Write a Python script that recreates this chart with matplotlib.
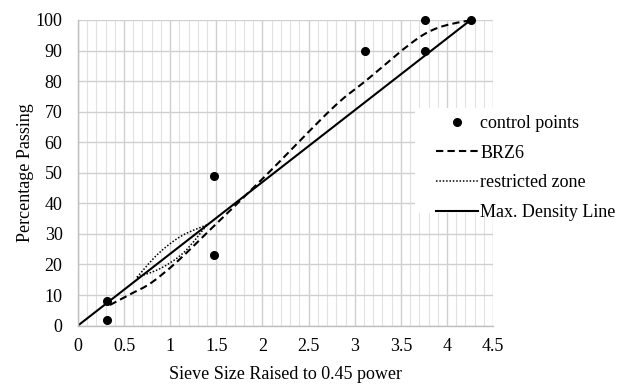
import numpy as np
import matplotlib
matplotlib.use("Agg")
import matplotlib.pyplot as plt
from matplotlib.path import Path
from matplotlib.patches import PathPatch, Rectangle
from matplotlib.lines import Line2D

plt.rcParams['font.family'] = ['Liberation Serif', 'DejaVu Serif']

# sieve sizes (mm) and BRZ6 gradation (% passing)
sieves = [25, 19, 12.5, 9.5, 4.75, 2.36, 1.18, 0.6, 0.3, 0.15, 0.075]
brz6 = [100, 95.5, 80, 71, 48.5, 32.5, 21, 14, 10.5, 8, 6.2]

# control points
ctrl_sieves = [0.075, 0.075, 2.36, 2.36, 12.5, 19, 19, 25]
ctrl_pass = [2, 8, 23, 49, 90, 90, 100, 100]

# restricted zone (upper / lower)
rz_up_x = [0.64, 0.87, 1.12, 1.40]
rz_up_y = [15.8, 23.5, 29.3, 33.0]
rz_lo_x = [0.64, 0.90, 1.15, 1.40]
rz_lo_y = [15.8, 18.8, 24.0, 33.0]

# max density line
mdl_sieves = [0, 25]
mdl_pass = [0, 100]

power = 0.45
fs = 13


def smooth_path(x, y):
    # Excel style smoothed line: bezier through each point
    p = np.column_stack([x, y]).astype(float)
    n = len(p)
    verts = [p[0]]
    codes = [Path.MOVETO]
    for i in range(n - 1):
        p0 = p[i - 1] if i > 0 else p[i]
        p3 = p[i + 2] if i + 2 < n else p[i + 1]
        c1 = p[i] + (p[i + 1] - p0) / 6
        c2 = p[i + 1] - (p3 - p[i]) / 6
        verts += [c1, c2, p[i + 1]]
        codes += [Path.CURVE4] * 3
    return Path(verts, codes)


fig = plt.figure(figsize=(6.18, 3.84), dpi=100)
ax = fig.add_axes([0.126, 0.152, 0.672, 0.796])

ax.set_xlim(0, 4.5)
ax.set_ylim(0, 100)
ax.set_xticks(np.arange(0, 4.51, 0.5))
ax.set_xticklabels(['0', '0.5', '1', '1.5', '2', '2.5', '3', '3.5', '4', '4.5'])
ax.set_xticks(np.arange(0, 4.51, 0.1), minor=True)
ax.set_yticks(np.arange(0, 101, 10))
ax.grid(which='major', color='#d0d0d0', linewidth=1.0)
ax.grid(which='minor', axis='x', color='#e2e2e2', linewidth=0.8)
ax.set_axisbelow(True)
ax.tick_params(which='both', length=0, labelsize=fs)
ax.tick_params(axis='y', pad=11)
ax.tick_params(axis='x', pad=9)
for s in ['top', 'right']:
    ax.spines[s].set_visible(False)
for s in ['left', 'bottom']:
    ax.spines[s].set_color('#bfbfbf')
    ax.spines[s].set_linewidth(1.0)

bx = np.array(sieves) ** power
ax.add_patch(PathPatch(smooth_path(bx, brz6), fill=False, color='black',
                       linewidth=1.5, linestyle=(0, (3.5, 2))))
ax.add_patch(PathPatch(smooth_path(rz_up_x, rz_up_y), fill=False, color='black',
                       linewidth=1.1, linestyle=(0, (1, 1.2))))
ax.add_patch(PathPatch(smooth_path(rz_lo_x, rz_lo_y), fill=False, color='black',
                       linewidth=1.1, linestyle=(0, (1, 1.2))))
ax.plot(np.array(mdl_sieves) ** power, mdl_pass, color='black', linewidth=1.5)
ax.plot(np.array(ctrl_sieves) ** power, ctrl_pass, 'o', color='black',
        markersize=5.5, clip_on=False)

ax.set_xlabel('Sieve Size Raised to 0.45 power', fontsize=fs, labelpad=8)
ax.set_ylabel('Percentage Passing', fontsize=fs, labelpad=1)

# white legend box that covers the grid
fig.add_artist(Rectangle((415 / 618, 1 - 213 / 384), (618 - 415) / 618, 105 / 384,
                         transform=fig.transFigure, facecolor='white',
                         edgecolor='none', zorder=1))

handles = [
    Line2D([], [], marker='o', color='black', linestyle='none', markersize=5.5),
    Line2D([], [], color='black', linewidth=1.5, linestyle=(0, (3.5, 2))),
    Line2D([], [], color='black', linewidth=1.1, linestyle=(0, (1, 1.2))),
    Line2D([], [], color='black', linewidth=1.5),
]
labels = ['control points', 'BRZ6', 'restricted zone', 'Max. Density Line']
leg = fig.legend(handles, labels, loc='upper left',
                 bbox_to_anchor=(436 / 618, 1 - 115 / 384),
                 frameon=False, fontsize=fs, handlelength=2.35,
                 handletextpad=0.1, labelspacing=0.7, borderpad=0,
                 borderaxespad=0)

fig.savefig('out.png', dpi=100)
